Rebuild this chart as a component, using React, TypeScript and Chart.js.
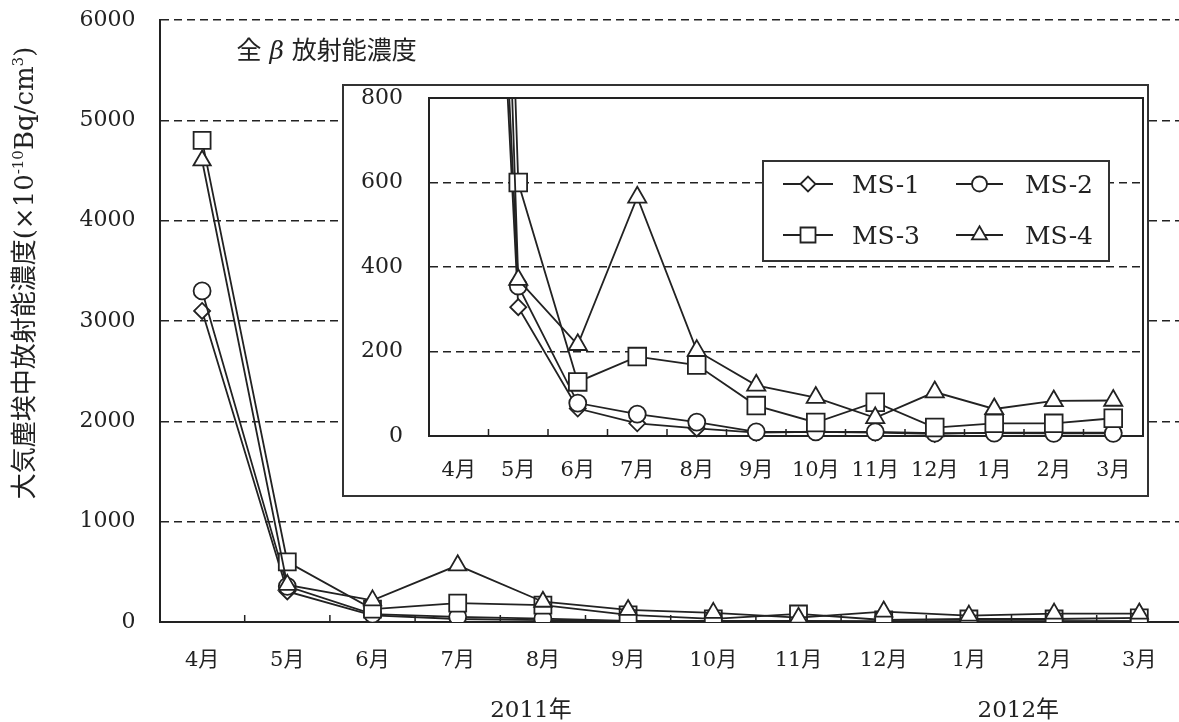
import React, { useEffect, useRef } from 'react';
import { Chart, registerables } from 'chart.js';
import { drawPoint } from 'chart.js/helpers';

Chart.register(...registerables);

// ---------- data ----------
const months = ['4月', '5月', '6月', '7月', '8月', '9月', '10月', '11月', '12月', '1月', '2月', '3月'];
const yearLabels = ['2011年', '2012年'];
const seriesLabels = ['MS-1', 'MS-2', 'MS-3', 'MS-4'];
const ms1 = [3100, 305, 65, 30, 18, 8, 10, 8, 5, 8, 8, 8];
const ms2 = [3300, 355, 78, 52, 33, 10, 10, 10, 7, 7, 6, 6];
const ms3 = [4800, 600, 128, 188, 168, 72, 32, 80, 20, 30, 30, 42];
const ms4 = [4600, 370, 216, 565, 202, 120, 91, 43, 104, 64, 83, 84];
const mainYTicks = [0, 1000, 2000, 3000, 4000, 5000, 6000];
const insetYTicks = [0, 200, 400, 600, 800];
const chartTitle = ['全 ', 'β', ' 放射能濃度'];
const yTitleParts = ['大気塵埃中放射能濃度(×10', '-10', 'Bq/cm', '3', ')'];

// ---------- styles ----------
const INK = '#222222';
const FONT = '"DejaVu Serif", "Noto Sans CJK JP", serif';
const seriesValues = [ms1, ms2, ms3, ms4];
const pointStyles = ['rectRot', 'circle', 'rect', 'triangle'];
const mainRadii = [8, 8.5, 12, 10];
const insetRadii = [8, 8.5, 12.5, 10.5];
const legendRadii = [7.5, 7.5, 10.6, 8.7];

function buildDatasets(radii: number[], clip: any) {
  return seriesLabels.map((label, k) => ({
    label,
    data: seriesValues[k].map((y, i) => ({ x: i, y })),
    borderColor: INK,
    borderWidth: 1.8,
    pointStyle: pointStyles[k],
    pointRadius: radii[k],
    pointBorderWidth: 1.8,
    pointBackgroundColor: '#ffffff',
    pointBorderColor: INK,
    order: 4 - k,
    tension: 0,
    clip,
  }));
}

function innerTicks(len: number) {
  return {
    id: 'innerTicks',
    beforeDatasetsDraw(chart: any) {
      const ctx = chart.ctx;
      const x = chart.scales.x;
      const bottom = chart.chartArea.bottom;
      ctx.save();
      ctx.strokeStyle = INK;
      ctx.lineWidth = 1.5;
      ctx.beginPath();
      for (let i = 0; i < months.length - 1; i++) {
        const px = x.getPixelForValue(i + 0.5);
        ctx.moveTo(px, bottom);
        ctx.lineTo(px, bottom - len);
      }
      ctx.stroke();
      ctx.restore();
    },
  };
}

type Seg = { t: string; size: number; rise?: number; italic?: boolean };

function drawSegs(ctx: CanvasRenderingContext2D, segs: Seg[], x: number, baseline: number, align: 'left' | 'center') {
  const widths = segs.map((s) => {
    ctx.font = `${s.italic ? 'italic ' : ''}${s.size}px ${FONT}`;
    return ctx.measureText(s.t).width;
  });
  const total = widths.reduce((a, b) => a + b, 0);
  let cx = align === 'center' ? x - total / 2 : x;
  ctx.textAlign = 'left';
  ctx.textBaseline = 'alphabetic';
  segs.forEach((s, i) => {
    ctx.font = `${s.italic ? 'italic ' : ''}${s.size}px ${FONT}`;
    ctx.fillText(s.t, cx, baseline - (s.rise || 0));
    cx += widths[i];
  });
}

const mainTextPlugin = {
  id: 'mainText',
  afterDraw(chart: any) {
    const ctx: CanvasRenderingContext2D = chart.ctx;
    const area = chart.chartArea;
    const xs = chart.scales.x;
    ctx.save();
    ctx.fillStyle = INK;
    // chart title
    drawSegs(
      ctx,
      [
        { t: chartTitle[0], size: 25 },
        { t: chartTitle[1], size: 25, italic: true },
        { t: chartTitle[2], size: 25 },
      ],
      area.left + 77,
      area.top + 39,
      'left'
    );
    // year labels
    ctx.font = `23px ${FONT}`;
    ctx.textAlign = 'center';
    ctx.textBaseline = 'alphabetic';
    const yearPos = [3.86, 9.58];
    yearLabels.forEach((t, i) => ctx.fillText(t, xs.getPixelForValue(yearPos[i]), 717));
    // y axis title (rotated)
    ctx.save();
    ctx.translate(24, 273);
    ctx.rotate(-Math.PI / 2);
    drawSegs(
      ctx,
      [
        { t: yTitleParts[0], size: 26 },
        { t: yTitleParts[1], size: 15, rise: 10 },
        { t: yTitleParts[2], size: 26 },
        { t: yTitleParts[3], size: 15, rise: 10 },
        { t: yTitleParts[4], size: 26 },
      ],
      0,
      9,
      'center'
    );
    ctx.restore();
    ctx.restore();
  },
};

const insetBoxPlugin = {
  id: 'insetBox',
  beforeDatasetsDraw(chart: any) {
    const ctx = chart.ctx;
    const a = chart.chartArea;
    ctx.save();
    ctx.strokeStyle = INK;
    ctx.lineWidth = 2;
    ctx.beginPath();
    ctx.moveTo(a.left, a.top);
    ctx.lineTo(a.right, a.top);
    ctx.lineTo(a.right, a.bottom);
    ctx.stroke();
    ctx.restore();
  },
};

const insetLegendPlugin = {
  id: 'insetLegend',
  afterDraw(chart: any) {
    const ctx: CanvasRenderingContext2D = chart.ctx;
    const a = chart.chartArea;
    const bx = a.right - 380;
    const by = a.top + 63;
    const bw = 346;
    const bh = 100;
    ctx.save();
    ctx.fillStyle = '#ffffff';
    ctx.fillRect(bx, by, bw, bh);
    ctx.strokeStyle = '#333333';
    ctx.lineWidth = 2;
    ctx.strokeRect(bx, by, bw, bh);
    const cols = [20, 193];
    const lens = [50, 47];
    const rows = [23, 74];
    chart.data.datasets.forEach((ds: any, k: number) => {
      const col = k % 2;
      const row = Math.floor(k / 2);
      const lx = bx + cols[col];
      const ly = by + rows[row];
      ctx.strokeStyle = INK;
      ctx.lineWidth = 1.8;
      ctx.beginPath();
      ctx.moveTo(lx, ly);
      ctx.lineTo(lx + lens[col], ly);
      ctx.stroke();
      ctx.fillStyle = '#ffffff';
      ctx.strokeStyle = INK;
      ctx.lineWidth = 1.8;
      drawPoint(ctx, { pointStyle: ds.pointStyle, rotation: 0, radius: legendRadii[k], borderWidth: 1.8 } as any, lx + lens[col] / 2, ly);
      ctx.fillStyle = INK;
      ctx.font = `25px ${FONT}`;
      ctx.textAlign = 'left';
      ctx.textBaseline = 'alphabetic';
      ctx.fillText(ds.label, lx + 69, ly + 9);
    });
    ctx.restore();
  },
};

const zeroPad = (s: any) => {
  s.paddingTop = 0;
  s.paddingBottom = 0;
  s.paddingLeft = 0;
  s.paddingRight = 0;
};

export default function App() {
  const mainRef = useRef<HTMLCanvasElement | null>(null);
  const insetRef = useRef<HTMLCanvasElement | null>(null);

  useEffect(() => {
    document.body.style.margin = '0';
    const tickFont = { family: FONT, size: 21 };
    const yFont = { family: FONT, size: 22 };

    const main = new Chart(mainRef.current as HTMLCanvasElement, {
      type: 'line',
      data: { datasets: buildDatasets(mainRadii, undefined) as any },
      options: {
        animation: false,
        responsive: false,
        events: [],
        layout: { autoPadding: false, padding: { top: 20, left: 0, right: 0, bottom: 0 } },
        plugins: { legend: { display: false }, tooltip: { enabled: false } },
        scales: {
          x: {
            type: 'linear',
            min: -0.5,
            max: 11.466,
            afterBuildTicks: (s: any) => {
              s.ticks = months.map((_, i) => ({ value: i }));
            },
            afterFit: (s: any) => {
              s.height = 100;
              zeroPad(s);
            },
            grid: { display: false, drawTicks: false },
            border: { display: true, color: INK, width: 2 },
            ticks: {
              autoSkip: false,
              maxRotation: 0,
              padding: 26,
              color: INK,
              font: tickFont,
              callback: (v: any) => months[v as number],
            },
          },
          y: {
            type: 'linear',
            min: 0,
            max: 6000,
            afterBuildTicks: (s: any) => {
              s.ticks = mainYTicks.map((v) => ({ value: v }));
            },
            afterFit: (s: any) => {
              s.width = 159.5;
              zeroPad(s);
            },
            grid: {
              color: (c: any) => (c.tick && c.tick.value === 0 ? 'rgba(0,0,0,0)' : INK),
              lineWidth: 1.5,
              drawTicks: false,
            },
            border: { display: true, color: INK, width: 2, dash: [8, 5] },
            ticks: { padding: 24, color: INK, font: yFont, callback: (v: any) => String(v) },
          },
        },
      },
      plugins: [innerTicks(7), mainTextPlugin],
    });

    const inset = new Chart(insetRef.current as HTMLCanvasElement, {
      type: 'line',
      data: { datasets: buildDatasets(insetRadii, { left: 15, right: 15, top: 0, bottom: 15 }) as any },
      options: {
        animation: false,
        responsive: false,
        events: [],
        layout: { autoPadding: false, padding: { top: 12, left: 0, right: 4, bottom: 0 } },
        plugins: { legend: { display: false }, tooltip: { enabled: false } },
        scales: {
          x: {
            type: 'linear',
            min: -0.5,
            max: 11.5,
            afterBuildTicks: (s: any) => {
              s.ticks = months.map((_, i) => ({ value: i }));
            },
            afterFit: (s: any) => {
              s.height = 59;
              zeroPad(s);
            },
            grid: { display: false, drawTicks: false },
            border: { display: true, color: INK, width: 2 },
            ticks: {
              autoSkip: false,
              maxRotation: 0,
              padding: 22,
              color: INK,
              font: tickFont,
              callback: (v: any) => months[v as number],
            },
          },
          y: {
            type: 'linear',
            min: 0,
            max: 800,
            afterBuildTicks: (s: any) => {
              s.ticks = insetYTicks.map((v) => ({ value: v }));
            },
            afterFit: (s: any) => {
              s.width = 85;
              zeroPad(s);
            },
            grid: {
              color: (c: any) => (c.tick && c.tick.value === 0 ? 'rgba(0,0,0,0)' : INK),
              lineWidth: 1.5,
              drawTicks: false,
            },
            border: { display: true, color: INK, width: 2, dash: [8, 5] },
            ticks: { padding: 26, color: INK, font: yFont, callback: (v: any) => String(v) },
          },
        },
      },
      plugins: [innerTicks(7), insetBoxPlugin, insetLegendPlugin],
    });

    return () => {
      main.destroy();
      inset.destroy();
    };
  }, []);

  return (
    <div style={{ position: 'relative', width: 1179, height: 722, overflow: 'hidden', background: '#fff' }}>
      <canvas ref={mainRef} width={1179} height={722} style={{ position: 'absolute', left: 0, top: 0, width: 1179, height: 722 }} />
      <div
        style={{
          position: 'absolute',
          left: 342,
          top: 84,
          width: 807,
          height: 413,
          boxSizing: 'border-box',
          border: '2px solid #333',
          background: '#fff',
        }}
      >
        <canvas ref={insetRef} width={803} height={409} style={{ display: 'block', width: 803, height: 409 }} />
      </div>
    </div>
  );
}
